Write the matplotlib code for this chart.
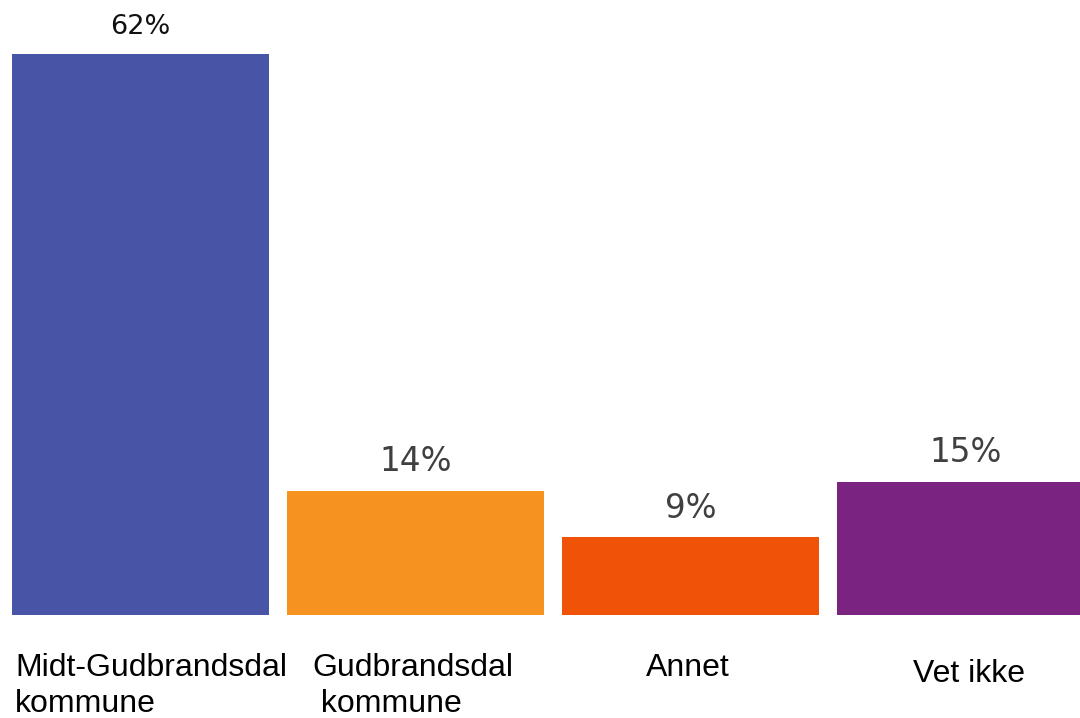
import matplotlib.pyplot as plt

# Data
categories = ["Midt-Gudbrandsdal\nkommune", "Gudbrandsdal\n kommune", "Annet", "Vet ikke"]
values = [61.9, 13.7, 8.6, 14.7]
value_labels = ["62%", "14%", "9%", "15%"]
colors = ["#4855A6", "#F69320", "#F05308", "#7A2380"]
label_colors = ["#111111", "#404040", "#404040", "#404040"]
label_sizes = [19.5, 23.5, 23.5, 23.5]

fig = plt.figure(figsize=(10.8, 7.18), dpi=100)
# axes fill the width; bottom at the bar baseline (615 px from top)
ax = fig.add_axes([0, 103 / 718, 1, 615 / 718])

x = range(len(values))
ax.bar(x, values, width=0.935, color=colors)

ax.set_xlim(-0.511, 3.416)
ax.set_ylim(0, 67.84)
ax.axis("off")

# value labels above the bars
for i, (v, lab, c, s) in enumerate(zip(values, value_labels, label_colors, label_sizes)):
    ax.annotate(lab, xy=(i, v), xytext=(0, 14), textcoords="offset points",
                ha="center", va="baseline", fontsize=s, color=c,
                family="DejaVu Sans")

# category labels below, placed by hand like the original
cat_pos = [(-0.456, "left", -27), (1 - 0.4675 + 25 / 275, "left", -27),
           (2 - 0.011, "center", -27), (3 + 0.012, "center", -32)]
for cat, (xp, ha, dy) in zip(categories, cat_pos):
    ax.annotate(cat, xy=(xp, 0), xycoords=("data", "axes fraction"),
                xytext=(0, dy), textcoords="offset points",
                ha=ha, va="top", fontsize=23.0, color="black",
                family="Liberation Sans", linespacing=1.3,
                annotation_clip=False)

fig.savefig("out.png", dpi=100)
